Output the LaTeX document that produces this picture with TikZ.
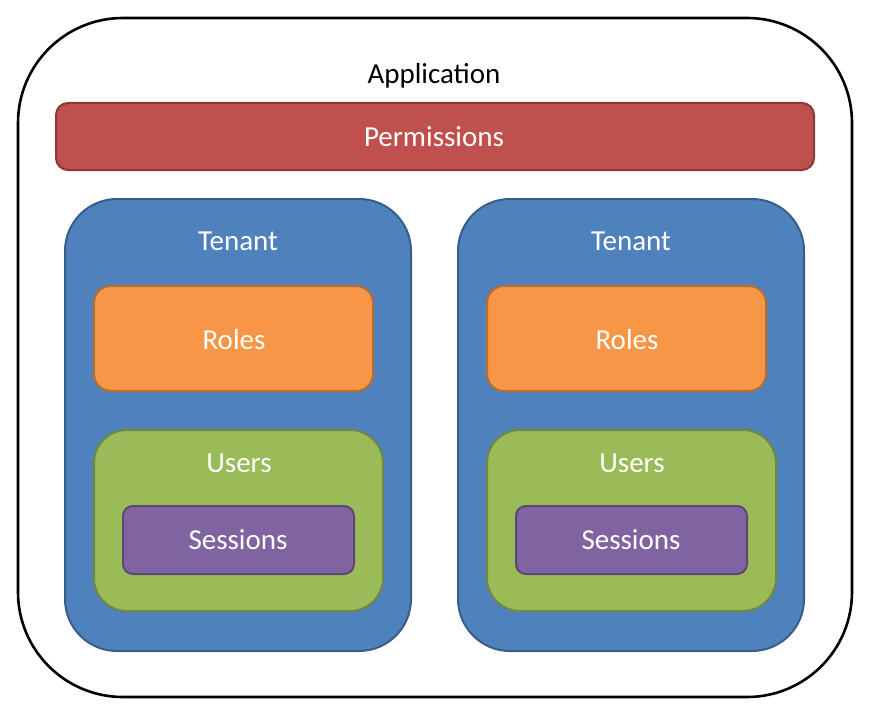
\documentclass[tikz,border=0pt]{standalone}
\usepackage{fontspec}
\setmainfont{Carlito}
\definecolor{redF}{HTML}{C0504D}\definecolor{redD}{HTML}{8C3836}
\definecolor{bluF}{HTML}{4F81BD}\definecolor{bluD}{HTML}{385D8A}
\definecolor{oraF}{HTML}{F79646}\definecolor{oraD}{HTML}{B66D31}
\definecolor{grnF}{HTML}{9BBB59}\definecolor{grnD}{HTML}{71893F}
\definecolor{purF}{HTML}{8064A2}\definecolor{purD}{HTML}{5C4776}
\begin{document}
\begin{tikzpicture}[x=1bp,y=-1bp,
  lbl/.style={anchor=base,inner sep=0pt,font=\fontsize{29bp}{33bp}\selectfont},
  wlbl/.style={lbl,text=white},
  box/.style={line width=2bp}]
\useasboundingbox (0,0) rectangle (871,715);
% outer application
\draw[line width=2.6bp,rounded corners=105bp] (18,18) rectangle (852,697);
\node[lbl] (app) at (434,84) {Application};
% permissions
\draw[box,fill=redF,draw=redD,rounded corners=12bp] (56,103) rectangle (814,170);
\node[wlbl] (perm) at (434,147) {Permissions};
% tenants
\foreach \dx/\nm in {0/L,393/R}{
  \begin{scope}[xshift=\dx bp]
    \draw[box,fill=bluF,draw=bluD,rounded corners=52bp] (65,199) rectangle (411,651);
    \node[wlbl] (ten\nm) at (238,250) {Tenant};
    \draw[box,fill=oraF,draw=oraD,rounded corners=17bp] (94,286) rectangle (373,391);
    \node[wlbl] (rol\nm) at (234,349) {Roles};
    \draw[box,fill=grnF,draw=grnD,rounded corners=33bp] (94,430) rectangle (383,611);
    \node[wlbl] (usr\nm) at (239,472) {Users};
    \draw[box,fill=purF,draw=purD,rounded corners=10bp] (123,506) rectangle (354,574);
    \node[wlbl] (ses\nm) at (238,549) {Sessions};
  \end{scope}
}
\end{tikzpicture}
\end{document}
